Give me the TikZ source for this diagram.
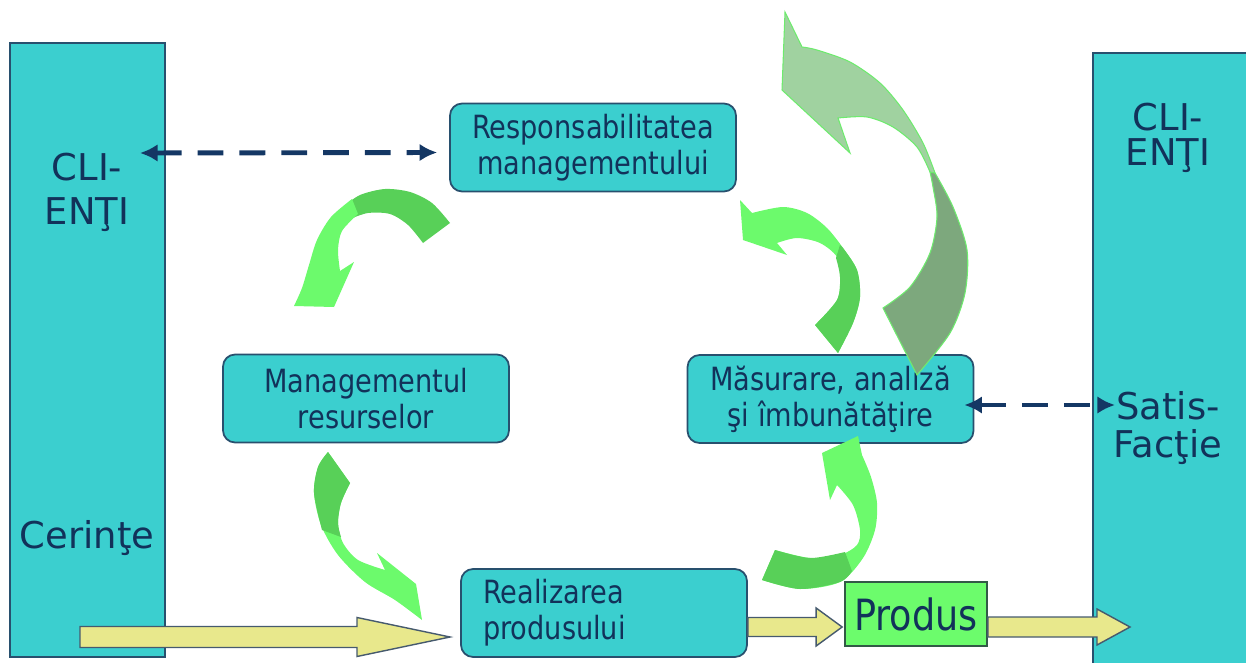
\documentclass[tikz,border=0pt]{standalone}
\usepackage{fontspec}
\setmainfont{DejaVu Sans}
\newfontfamily\boxfont[FakeStretch=0.85]{DejaVu Sans}
\usepackage{tikz}
\usetikzlibrary{positioning,calc,arrows.meta}
\usepackage{xcolor}

\definecolor{barfill}{RGB}{59,207,207}
\definecolor{barline}{RGB}{40,80,110}
\definecolor{txt}{RGB}{18,50,90}
\definecolor{dashc}{RGB}{20,55,100}
\definecolor{yfill}{RGB}{232,232,140}
\definecolor{yline}{RGB}{70,90,110}
\definecolor{prodfill}{RGB}{108,252,108}
\definecolor{prodline}{RGB}{50,90,70}
\definecolor{glight}{RGB}{108,250,108}
\definecolor{gdark}{RGB}{88,208,88}
\definecolor{biglight}{RGB}{160,210,160}
\definecolor{bigdark}{RGB}{125,168,125}
\definecolor{gedge}{RGB}{110,235,110}

\tikzset{
  bar/.style={draw=barline, fill=barfill, line width=0.8pt},
  bartxt/.style={text=txt, align=center, font=\fontsize{21}{25}\selectfont},
  proc/.style={draw=barline, fill=barfill, line width=1pt, rounded corners=0.24cm,
    minimum width=5.72cm, minimum height=1.76cm, inner sep=0pt, align=center,
    text=txt, font=\boxfont\fontsize{18.2}{20.5}\selectfont},
  dasharr/.style={dashc, line width=2.8pt, dash pattern=on 14.7pt off 9.1pt,
    {Latex[length=10pt,width=10pt]}-{Latex[length=10pt,width=10pt]}},
  yarr/.style={draw=yline, fill=yfill, line width=0.8pt},
  gl/.style={fill=glight},
  gd/.style={fill=gdark},
  bl/.style={fill=biglight, draw=gedge, line width=0.6pt},
  bd/.style={fill=bigdark, draw=gedge, line width=0.6pt}
}

% tail, tip, half shaft, half head, head length
\newcommand{\flowarrow}[5]{%
  \draw[yarr] ($(#1)+(0,-#3)$) -- ($(#2)+(-#5,-#3)$) -- ($(#2)+(-#5,-#4)$) -- (#2)
    -- ($(#2)+(-#5,#4)$) -- ($(#2)+(-#5,#3)$) -- ($(#1)+(0,#3)$) -- cycle;}

\begin{document}
\begin{tikzpicture}[x=0.02cm, y=-0.02cm]
    \useasboundingbox (0,0) rectangle (1246,662);

      % Clients
      \node[bar, minimum width=3.1cm, minimum height=12.28cm] (barL) at (87.5,350) {};
      \node[bar, minimum width=3.14cm, minimum height=12.24cm] (barR) at (1171.5,359) {};
      \node[bartxt] (cliL) at (87,192) {CLI-\\ENŢI};
      \node[bartxt] (cer) at (87,538) {Cerinţe};
      \node[bartxt, font=\fontsize{21}{20}\selectfont] (cliR) at (1168,138) {CLI-\\ENŢI};
      \node[bartxt, font=\fontsize{21}{21.5}\selectfont] (sat) at (1168,428) {Satis-\\Facţie};

      % Processes
      \node[proc] (resp) at (593,147.5) {Responsabilitatea\\managementului};
      \node[proc] (mres) at (366,398.5) {Managementul\\resurselor};
      \node[proc] (masu) at (830.5,399) {Măsurare, analiză\\şi îmbunătăţire};
      \node[proc, align=left, text width=4.84cm, inner xsep=0.44cm] (real) at (604,613)
        {Realizarea\\produsului};
      \node[draw=prodline, fill=prodfill, line width=1pt, minimum width=2.84cm, minimum height=1.28cm,
        inner sep=0pt, text=txt, font=\boxfont\fontsize{24.5}{25}\selectfont] (prod) at (916,614) {Produs};

      % Information
      \coordinate (dL) at (140,153);
      \coordinate (dR) at (1115,405);
      \draw[dasharr] (dL) -- ($(resp.west)+(-12,5)$);
      \draw[dasharr] ($(masu.east)+(-10,6)$) -- (dR);

      % Product flow
      \coordinate (in) at (80,637);
      \coordinate (inTip) at (450,637);
      \coordinate (mid) at ($(real.east)+(0,14)$);
      \coordinate (midTip) at ($(prod.west)+(-2,13)$);
      \coordinate (out) at ($(prod.east)+(0,13)$);
      \coordinate (outTip) at (1130,627);
      \flowarrow{in}{inTip}{10.5}{19.5}{93}
      \flowarrow{mid}{midTip}{9.5}{19}{26}
      \flowarrow{out}{outTip}{10}{18}{33}

      % Cycle
      % resp -> mres
      \fill[gd] (450,223) -- plot[smooth] coordinates {(450,223) (432,203) (410,192) (385,189) (360,195) (343,207)}
        -- (350,219) -- plot[smooth] coordinates {(350,219) (368,213) (390,214) (408,225) (423,243)} -- cycle;
      \fill[gl] (352,199) -- plot[smooth] coordinates {(352,199) (331,217) (317,240) (309,265) (302,288) (294,306)}
        -- (334,307) -- (354,262) -- (340,271)
        -- plot[smooth] coordinates {(340,271) (338,250) (342,231) (358,214)} -- cycle;
      % mres -> real
      \fill[gl] (328,452) -- (350,483)
        -- plot[smooth] coordinates {(350,483) (341,503) (338,523) (343,543) (358,560) (385,570)}
        -- (377,553) -- (416,584) -- (422,620)
        -- plot[smooth] coordinates {(422,620) (395,600) (365,582) (338,555) (321,525) (314,493) (318,467) (328,452)} -- cycle;
      \fill[gd] (328,452) -- (350,483)
        -- plot[smooth] coordinates {(350,483) (341,503) (338,523) (341,537)}
        -- (322,530) -- plot[smooth] coordinates {(322,530) (314,493) (318,467) (328,452)} -- cycle;
      % real -> masu
      \fill[gl] (858,436) -- (822,453) -- (830,500) -- (837,485)
        -- plot[smooth] coordinates {(837,485) (853,505) (860,530) (857,545) (840,555) (810,558) (775,550)}
        -- (762,580) -- plot[smooth] coordinates {(762,580) (800,589) (840,582) (863,558) (875,530) (877,503) (871,477) (862,455)} -- cycle;
      \fill[gd] (775,550) -- (762,580)
        -- plot[smooth] coordinates {(762,580) (800,589) (840,582) (852,571)}
        -- (845,552) -- plot[smooth] coordinates {(845,552) (810,558) (775,550)} -- cycle;
      % masu -> resp
      \fill[gl] (740,200) -- (752,213)
        -- plot[smooth] coordinates {(752,213) (783,207) (807,213) (827,228) (843,248) (857,270) (860,297) (853,323) (838,353)}
        -- (815,325) -- plot[smooth] coordinates {(815,325) (837,300) (840,277) (837,257) (820,243) (797,238) (777,243)}
        -- (787,255) -- (743,240) -- cycle;
      \fill[gd] (840,245)
        -- plot[smooth] coordinates {(843,248) (857,270) (860,297) (853,323) (838,353)}
        -- (815,325) -- plot[smooth] coordinates {(815,325) (837,300) (840,277) (836,258)} -- cycle;

      % Improvement
      \filldraw[bd] (933,172) -- plot[smooth] coordinates {(935,173) (953,207) (967,250) (965,293) (950,333) (917,375)}
        -- (883,308) -- plot[smooth] coordinates {(883,308) (910,287) (930,253) (937,217) (933,187) (930,172)} -- cycle;
      \filldraw[bl] (785,12) -- (802,47)
        -- plot[smooth] coordinates {(802,47) (817,50) (850,62) (880,83) (903,110) (923,143) (935,173)}
        -- (930,172) -- plot[smooth] coordinates {(930,172) (917,147) (893,127) (867,117) (838,118)}
        -- (850,153) -- (782,90) -- cycle;
  \end{tikzpicture}
\end{document}
